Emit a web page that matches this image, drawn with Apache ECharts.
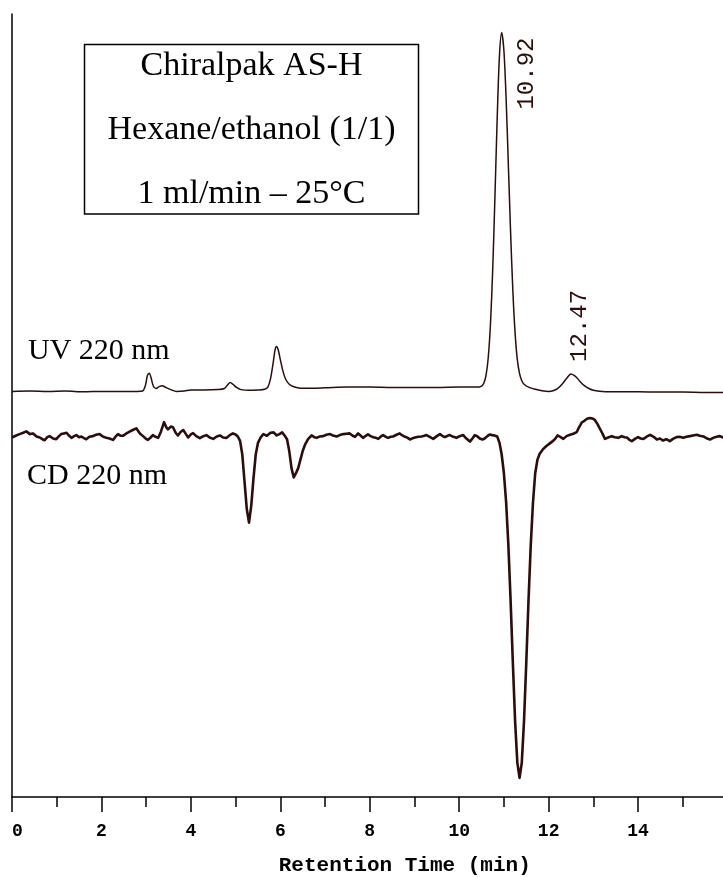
<!DOCTYPE html>
<html><head><meta charset="utf-8">
<script src="https://cdn.jsdelivr.net/npm/echarts@6/dist/echarts.min.js"></script>
<style>html,body{margin:0;padding:0;background:#fff}#c{width:723px;height:877px}</style>
</head><body><div id="c"></div>
<script>
// ---- data ----
const uvTime = [0.00,0.40,0.80,1.20,1.60,2.00,2.40,2.80,2.92,2.98,3.03,3.07,3.11,3.16,3.22,3.30,3.36,3.44,3.55,3.68,3.85,4.00,4.30,4.60,4.75,4.82,4.88,4.94,5.02,5.12,5.30,5.50,5.65,5.72,5.78,5.84,5.88,5.91,5.95,6.00,6.06,6.12,6.20,6.30,6.45,6.70,7.00,7.50,8.00,8.50,9.00,9.50,10.00,10.40,10.50,10.55,10.60,10.65,10.70,10.75,10.80,10.85,10.90,10.95,11.00,11.05,11.10,11.15,11.20,11.25,11.30,11.35,11.40,11.45,11.55,11.70,11.85,12.00,12.10,12.20,12.30,12.40,12.50,12.60,12.70,12.80,12.90,13.00,13.20,13.60,14.00,14.50,15.00,15.50,16.00];
const uvSignal = [0.0,0.1,0.0,0.1,-0.1,0.0,0.0,0.0,0.1,1.5,4.5,5.1,3.8,1.5,0.8,1.4,1.6,1.1,0.5,0.0,0.1,0.4,0.4,0.5,0.8,1.8,2.5,2.0,1.1,0.5,0.3,0.4,0.6,1.2,3.5,8.0,11.5,12.6,11.8,8.9,5.6,3.4,2.0,1.3,0.9,0.9,1.0,1.2,1.2,1.1,1.1,1.1,1.2,1.2,1.5,2.3,4.5,9.5,19.0,34.3,54.7,76.6,93.9,100.5,95.4,81.8,63.3,44.4,28.2,16.4,8.9,5.0,3.0,2.0,1.2,0.6,0.2,0.0,0.2,0.8,2.0,3.6,4.9,4.2,2.8,1.6,0.8,0.3,0.0,-0.1,-0.1,-0.2,-0.2,-0.3,-0.3];

const cdTime = [0.00,0.08,0.17,0.25,0.32,0.40,0.47,0.55,0.62,0.68,0.73,0.79,0.84,0.92,0.99,1.05,1.10,1.16,1.22,1.28,1.33,1.39,1.44,1.50,1.55,1.61,1.66,1.73,1.81,1.88,1.96,2.03,2.11,2.18,2.26,2.32,2.37,2.43,2.48,2.56,2.63,2.70,2.78,2.86,2.93,2.99,3.04,3.10,3.15,3.21,3.27,3.33,3.40,3.45,3.49,3.55,3.60,3.66,3.71,3.77,3.83,3.89,3.94,4.00,4.05,4.12,4.20,4.28,4.35,4.42,4.50,4.58,4.65,4.72,4.80,4.87,4.94,5.00,5.05,5.10,5.15,5.20,5.25,5.30,5.35,5.40,5.45,5.50,5.56,5.62,5.70,5.78,5.85,5.92,5.98,6.04,6.10,6.15,6.20,6.25,6.30,6.35,6.40,6.45,6.50,6.55,6.62,6.70,6.76,6.81,6.88,6.96,7.03,7.11,7.18,7.26,7.33,7.41,7.48,7.55,7.62,7.67,7.74,7.80,7.85,7.91,7.96,8.02,8.08,8.14,8.19,8.25,8.30,8.36,8.41,8.47,8.52,8.60,8.67,8.73,8.79,8.85,8.90,8.96,9.01,9.09,9.16,9.22,9.27,9.35,9.42,9.50,9.57,9.62,9.68,9.74,9.79,9.87,9.94,10.01,10.09,10.16,10.24,10.30,10.35,10.41,10.46,10.52,10.57,10.63,10.68,10.74,10.79,10.85,10.90,10.95,11.00,11.05,11.10,11.15,11.20,11.25,11.30,11.35,11.40,11.45,11.50,11.55,11.60,11.65,11.70,11.75,11.80,11.87,11.95,12.02,12.10,12.15,12.20,12.26,12.33,12.40,12.48,12.55,12.63,12.68,12.74,12.80,12.86,12.92,12.98,13.03,13.09,13.15,13.21,13.26,13.33,13.41,13.48,13.56,13.63,13.70,13.75,13.80,13.86,13.93,14.00,14.06,14.12,14.20,14.27,14.35,14.42,14.49,14.56,14.63,14.71,14.78,14.86,14.93,15.01,15.08,15.16,15.23,15.31,15.38,15.46,15.53,15.61,15.67,15.72,15.78,15.83,15.90,16.00];
const cdSignal = [0.0,0.5,1.0,1.4,1.8,1.0,1.2,0.3,0.0,-0.5,-0.8,0.1,0.4,-0.3,-0.5,0.4,1.0,1.2,1.4,0.5,-0.1,0.4,0.7,0.1,0.3,-0.2,-0.5,0.2,0.4,0.8,1.0,0.3,-0.1,-0.3,-0.7,0.3,1.0,0.5,0.5,1.2,1.7,2.2,2.7,1.2,0.4,-0.3,-0.7,0.0,0.7,0.2,-0.1,1.7,4.5,3.0,2.4,3.2,3.0,1.4,0.6,1.6,2.2,1.0,0.0,0.9,1.3,0.4,-0.2,0.4,0.7,0.0,-0.4,0.3,0.6,0.0,-0.1,0.7,1.2,0.9,0.3,-1.0,-5.0,-13.0,-21.0,-25.0,-20.0,-12.0,-5.0,-1.6,0.0,1.0,0.5,1.4,1.5,0.6,1.0,1.5,0.5,-0.5,-4.0,-9.0,-11.7,-10.5,-9.0,-6.5,-4.0,-2.2,-0.5,0.6,0.1,-0.1,0.3,0.4,0.8,1.0,0.6,0.3,0.7,1.0,1.1,1.2,0.5,0.2,1.2,0.5,-0.1,0.5,0.9,0.4,0.1,-0.1,-0.4,0.3,0.7,0.2,-0.1,0.2,0.3,0.8,1.2,0.6,0.2,-0.1,-0.6,-0.2,0.0,0.2,0.3,0.5,0.7,0.1,-0.4,0.4,1.0,0.5,0.1,0.5,0.7,0.2,-0.1,0.4,0.7,-0.3,-1.2,-0.2,0.7,0.3,-0.3,-0.6,-0.3,0.4,0.9,0.7,0.6,0.3,-1.5,-5.0,-10.5,-19.1,-31.7,-48.0,-66.2,-83.2,-95.5,-100.0,-95.5,-83.2,-66.2,-48.0,-31.7,-19.1,-10.5,-6.5,-4.8,-3.5,-2.5,-1.8,-1.0,-0.3,0.6,0.2,-0.4,0.4,0.8,1.1,1.6,3.0,4.4,4.9,5.5,5.7,5.6,5.2,4.0,2.5,1.0,-0.4,0.0,0.4,0.1,-0.1,0.4,0.1,0.0,-0.6,-1.1,-0.4,0.1,-0.3,-0.4,0.3,0.8,0.2,-0.6,-0.3,-0.9,-0.5,-1.1,-0.4,0.1,0.2,-0.1,0.2,0.4,0.6,0.8,0.5,0.3,-0.2,-0.6,-0.2,0.1,0.3,0.4,0.0,0.1];

const xTickLabels = [0,2,4,6,8,10,12,14];
const peakTimes = [10.92, 12.47];
const peakLabels = ['10.92', '12.47'];
const traceLabels = ['UV 220 nm', 'CD 220 nm'];
const conditionLines = ['Chiralpak AS-H', 'Hexane/ethanol (1/1)', '1 ml/min \u2013 25\u00B0C'];

// ---- chart ----
const INK = '#2b0d0d';
const chart = echarts.init(document.getElementById('c'), null, {renderer: 'canvas'});
const axisLineStyle = {color: '#000', width: 1.5};

chart.setOption({
  animation: false,
  backgroundColor: '#fff',
  grid: {left: 12, top: 14, bottom: 80, width: 715.5, containLabel: false, outerBoundsMode: 'none'},
  xAxis: {
    type: 'value', min: 0, max: 16, interval: 2,
    axisLine: {onZero: false, lineStyle: axisLineStyle},
    axisTick: {length: 15, lineStyle: axisLineStyle},
    minorTick: {show: true, splitNumber: 2, length: 10, lineStyle: axisLineStyle},
    splitLine: {show: false}, minorSplitLine: {show: false},
    axisLabel: {
      margin: 25, fontFamily: 'Liberation Mono', fontWeight: 'bold', fontSize: 18, color: '#000',
      alignMinLabel: 'left',
      formatter: v => xTickLabels.indexOf(v) >= 0 ? String(v) : ''
    },
    name: 'Retention Time (min)', nameLocation: 'middle', nameGap: 58,
    nameTextStyle: {fontFamily: 'Liberation Mono', fontWeight: 'bold', fontSize: 21, color: '#000', padding: [0, 0, 0, 70]}
  },
  yAxis: [
    {type: 'value', min: -113.6, max: 105.7, position: 'left',
     axisLine: {show: true, onZero: false, lineStyle: axisLineStyle},
     axisTick: {show: false}, axisLabel: {show: false}, splitLine: {show: false}},
    {type: 'value', min: -105.6, max: 124.4, position: 'left', show: false,
     axisLine: {show: false, onZero: false}, axisTick: {show: false}, axisLabel: {show: false}, splitLine: {show: false}}
  ],
  series: [
    {name: 'UV', type: 'line', xAxisIndex: 0, yAxisIndex: 0, symbol: 'none', smooth: 0.3,
     data: uvTime.map((t, i) => [t, uvSignal[i]]),
     lineStyle: {color: INK, width: 1.5}},
    {name: 'CD', type: 'line', xAxisIndex: 0, yAxisIndex: 1, symbol: 'none', smooth: false,
     data: cdTime.map((t, i) => [t, cdSignal[i]]),
     lineStyle: {color: INK, width: 2.6, join: 'round'}}
  ]
});

// annotations positioned from data coordinates
function apexNear(t) {
  let best = -1, bv = -Infinity;
  uvTime.forEach((x, i) => { if (Math.abs(x - t) < 0.2 && uvSignal[i] > bv) { bv = uvSignal[i]; best = i; } });
  return [uvTime[best], uvSignal[best]];
}
const labelOffsets = [[25, 77], [9, -12]];
const graphics = [];
peakTimes.forEach((t, k) => {
  const p = chart.convertToPixel({xAxisIndex: 0, yAxisIndex: 0}, apexNear(t));
  graphics.push({type: 'text', x: p[0] + labelOffsets[k][0], y: p[1] + labelOffsets[k][1], rotation: Math.PI / 2,
    style: {text: peakLabels[k], font: '24px "Liberation Mono"', fill: INK, align: 'left', verticalAlign: 'middle'}});
});
const uvBase = chart.convertToPixel({xAxisIndex: 0, yAxisIndex: 0}, [0, 0]);
const cdBase = chart.convertToPixel({xAxisIndex: 0, yAxisIndex: 1}, [0, 0]);
graphics.push({type: 'text', x: 28, y: uvBase[1] - 40,
  style: {text: traceLabels[0], font: '30px "Liberation Serif"', fill: '#000', align: 'left', verticalAlign: 'middle'}});
graphics.push({type: 'text', x: 27, y: cdBase[1] + 38.5,
  style: {text: traceLabels[1], font: '30px "Liberation Serif"', fill: '#000', align: 'left', verticalAlign: 'middle'}});
// conditions box
graphics.push({type: 'rect', shape: {x: 84.5, y: 44.5, width: 334, height: 169.5},
  style: {fill: '#fff', stroke: '#000', lineWidth: 1.5}});
const boxLineY = [66.5, 130, 194];
conditionLines.forEach((s, i) => {
  graphics.push({type: 'text', x: 251.5, y: boxLineY[i],
    style: {text: s, font: '34px "Liberation Serif"', fill: '#000', align: 'center', verticalAlign: 'middle'}});
});
chart.setOption({graphic: graphics});
</script>
</body></html>
